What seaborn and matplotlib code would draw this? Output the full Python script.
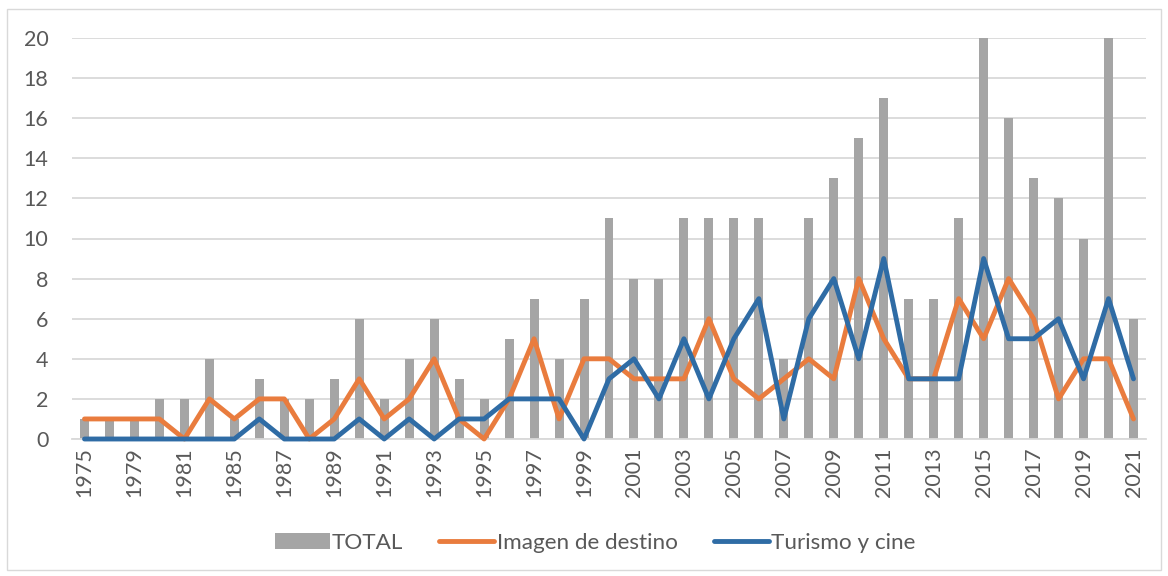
import matplotlib
matplotlib.use('Agg')
import matplotlib.pyplot as plt
import pandas as pd
import seaborn as sns
from matplotlib.patches import Rectangle

# Datos
years = ['1975', '1977', '1979', '1980', '1981', '1983', '1985', '1986', '1987', '1988',
         '1989', '1990', '1991', '1992', '1993', '1994', '1995', '1996', '1997', '1998',
         '1999', '2000', '2001', '2002', '2003', '2004', '2005', '2006', '2007', '2008',
         '2009', '2010', '2011', '2012', '2013', '2014', '2015', '2016', '2017', '2018',
         '2019', '2020', '2021']
total = [1, 1, 1, 2, 2, 4, 1, 3, 2, 2,
         3, 6, 2, 4, 6, 3, 2, 5, 7, 4,
         7, 11, 8, 8, 11, 11, 11, 11, 4, 11,
         13, 15, 17, 7, 7, 11, 20, 16, 13, 12,
         10, 20, 6]
imagen = [1, 1, 1, 1, 0, 2, 1, 2, 2, 0,
          1, 3, 1, 2, 4, 1, 0, 2, 5, 1,
          4, 4, 3, 3, 3, 6, 3, 2, 3, 4,
          3, 8, 5, 3, 3, 7, 5, 8, 6, 2,
          4, 4, 1]
turismo = [0, 0, 0, 0, 0, 0, 0, 1, 0, 0,
           0, 1, 0, 1, 0, 1, 1, 2, 2, 2,
           0, 3, 4, 2, 5, 2, 5, 7, 1, 6,
           8, 4, 9, 3, 3, 3, 9, 5, 5, 6,
           3, 7, 3]

df = pd.DataFrame({'year': years, 'pos': range(len(years)),
                   'TOTAL': total, 'Imagen de destino': imagen,
                   'Turismo y cine': turismo})

sns.set_theme(style='white')
plt.rcParams['font.family'] = ['Lato', 'DejaVu Sans']

W, H = 1168, 576
fig = plt.figure(figsize=(W / 100, H / 100), dpi=100)
ax = fig.add_axes([72 / W, 1 - 439 / H, (1146 - 72) / W, (439 - 38) / H])

sns.barplot(data=df, x='pos', y='TOTAL', native_scale=True, color='#A5A5A5',
            saturation=1, width=0.36, ax=ax, label='TOTAL', zorder=2, linewidth=0)
sns.lineplot(data=df, x='pos', y='Imagen de destino', color='#E97C3E', lw=3.5,
             ax=ax, label='Imagen de destino', zorder=3, clip_on=False,
             solid_joinstyle='round', solid_capstyle='round')
sns.lineplot(data=df, x='pos', y='Turismo y cine', color='#2F6CA5', lw=3.5,
             ax=ax, label='Turismo y cine', zorder=4, clip_on=False,
             solid_joinstyle='round', solid_capstyle='round')

ax.set_xlim(-0.5, len(years) - 0.5)
ax.set_ylim(0, 20)
ax.set_yticks(range(0, 21, 2))
ax.set_xticks(df['pos'][::2])
ax.set_xticklabels(years[::2], rotation=90)
ax.set_xlabel('')
ax.set_ylabel('')
ax.tick_params(axis='x', length=0, pad=6, labelsize=15.5, labelcolor='#595959')
ax.tick_params(axis='y', length=0, pad=17, labelsize=15.5, labelcolor='#595959')
ax.yaxis.grid(True, color='#D9D9D9', lw=1.3, zorder=0)
ax.xaxis.grid(False)
ax.set_axisbelow(True)
for s in ['top', 'left', 'right']:
    ax.spines[s].set_visible(False)
ax.spines['bottom'].set_color('#D9D9D9')
ax.spines['bottom'].set_linewidth(1.3)

handles, labels = ax.get_legend_handles_labels()
ax.get_legend().remove()
order = [labels.index(n) for n in ['TOTAL', 'Imagen de destino', 'Turismo y cine']]
fig.legend([handles[i] for i in order], [labels[i] for i in order],
           loc='center', bbox_to_anchor=(595 / W, 1 - 543 / H),
           ncol=3, frameon=False, handlelength=2.45, handleheight=0.75,
           handletextpad=0.1, columnspacing=1.6, fontsize=16.2,
           labelcolor='#595959')

# borde del área del gráfico
fig.patches.append(Rectangle((7 / W, 6 / H), 1 - 14 / W, 1 - 15 / H,
                             transform=fig.transFigure, fill=False,
                             edgecolor='#D9D9D9', lw=1))

fig.savefig('out.png', dpi=100)
